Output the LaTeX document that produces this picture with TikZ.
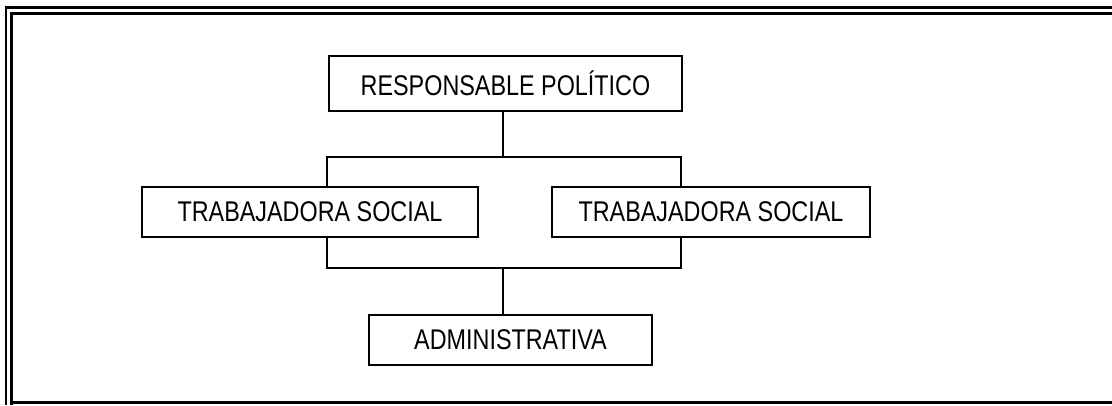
\documentclass[tikz,border=0pt]{standalone}
\usepackage{fontspec}
\setmainfont[FakeStretch=0.82]{Liberation Sans}
\begin{document}
\begin{tikzpicture}[x=1pt,y=-1pt,
  orgbox/.style={draw,line width=2pt,inner sep=0pt,anchor=north west,font=\fontsize{28.5}{30}\selectfont},
  conn/.style={line width=2pt}]
\useasboundingbox (0,0) rectangle (1112,405);
% frame
\draw[line width=2.6pt] (6,405) -- (6,7.5) -- (1112,7.5);
\draw[line width=2.4pt] (11.5,405) -- (11.5,13.5) -- (1112,13.5);
\draw[line width=2.2pt] (10.5,402.5) -- (1112,402.5);
% boxes
\node[orgbox,minimum width=353pt,minimum height=55pt] (rp) at (328,55) {RESPONSABLE POLÍTICO};
\node[orgbox,minimum width=336pt,minimum height=50pt] (ts1) at (141,186) {TRABAJADORA SOCIAL};
\node[orgbox,minimum width=318pt,minimum height=50pt] (ts2) at (551,186) {TRABAJADORA SOCIAL};
\node[orgbox,minimum width=283pt,minimum height=50pt] (adm) at (368,314) {ADMINISTRATIVA};
% connectors
\coordinate (j1) at (503,157);
\coordinate (j2) at (503,268);
\draw[conn] (rp.south -| j1) -- (j1);
\draw[conn] (ts1.north -| 327,0) -- (327,157) -- (681,157) -- (ts2.north -| 681,0);
\draw[conn] (ts1.south -| 327,0) -- (327,268) -- (681,268) -- (ts2.south -| 681,0);
\draw[conn] (j2) -- (adm.north -| j2);
\end{tikzpicture}
\end{document}
